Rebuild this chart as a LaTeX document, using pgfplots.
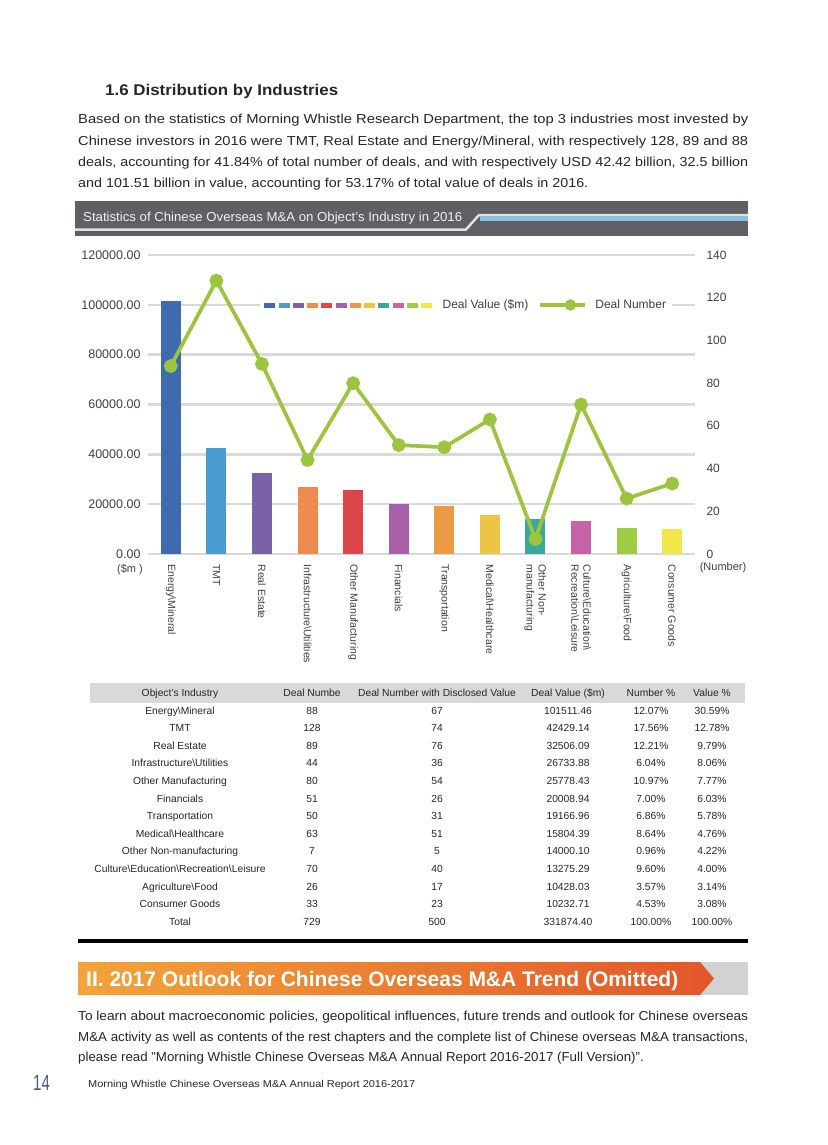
\documentclass[border=0pt]{standalone}
\usepackage{fontspec}
\setmainfont{Liberation Sans}
\usepackage{graphicx}
\usepackage{pgfplots}
\pgfplotsset{compat=1.18}

\definecolor{cEnergy}{HTML}{3D6BAE}
\definecolor{cTMT}{HTML}{4A9CD2}
\definecolor{cReal}{HTML}{7A62A6}
\definecolor{cInfra}{HTML}{EE8B4E}
\definecolor{cOthMfg}{HTML}{DC4549}
\definecolor{cFin}{HTML}{A960A8}
\definecolor{cTrans}{HTML}{E99A45}
\definecolor{cMed}{HTML}{EEC444}
\definecolor{cNonMfg}{HTML}{3AA89A}
\definecolor{cCult}{HTML}{C463A6}
\definecolor{cAgri}{HTML}{9FCB45}
\definecolor{cCons}{HTML}{F1E74C}
\definecolor{dealgreen}{HTML}{9DC43F}
\definecolor{gridgray}{HTML}{D9D9D9}
\definecolor{ticktext}{HTML}{404040}
\definecolor{bodytext}{HTML}{262626}
\definecolor{bannergray}{HTML}{5F6064}
\definecolor{bannerblue}{HTML}{8CC1E3}
\definecolor{orangeL}{HTML}{F2A43A}
\definecolor{orangeR}{HTML}{E2562A}
\definecolor{pagenum}{HTML}{4A5A78}

\newcommand\bodyfont{\fontsize{13}{15}\selectfont}
\newcommand\tabfont{\fontsize{10.3}{12}\selectfont}
\newlength\natw

\begin{document}%
\settowidth\natw{\bodyfont deals, accounting for 41.84\% of total number of deals, and with respectively USD 42.42 billion, 32.5 billion}%
\pgfmathsetmacro\sfa{670/\natw}%
\settowidth\natw{\bodyfont M\&A activity as well as contents of the rest chapters and the complete list of Chinese overseas M\&A transactions,}%
\pgfmathsetmacro\sfb{670/\natw}%
\begin{tikzpicture}
\path[use as bounding box, fill=white] (0pt,0pt) rectangle (827pt,-1145pt);

\begin{scope}[x=1pt, y=-1pt, every node/.style={inner sep=0pt}]
% heading and text above the chart
\node[anchor=base west, text=bodytext] at (105,96)
  {\resizebox{233pt}{\height}{\fontsize{15.5}{18}\selectfont\bfseries 1.6 Distribution by Industries}};
\node[anchor=base west, text=bodytext] at (78,124)
  {\resizebox{670pt}{\height}{\bodyfont Based on the statistics of Morning Whistle Research Department, the top 3 industries most invested by}};
\node[anchor=base west, text=bodytext] at (78,145)
  {\resizebox{670pt}{\height}{\bodyfont Chinese investors in 2016 were TMT, Real Estate and Energy/Mineral, with respectively 128, 89 and 88}};
\node[anchor=base west, text=bodytext] at (78,166)
  {\resizebox{670pt}{\height}{\bodyfont deals, accounting for 41.84\% of total number of deals, and with respectively USD 42.42 billion, 32.5 billion}};
\node[anchor=base west, text=bodytext] at (78,187)
  {\scalebox{\sfa}[1]{\bodyfont and 101.51 billion in value, accounting for 53.17\% of total value of deals in 2016.}};

% chart title banner
\fill[bannergray] (75,201) rectangle (748,236);
\draw[white!88!black, line width=2.5pt] (75,229.5) -- (466,229.5) -- (479,215) -- (748,215);
\fill[bannerblue] (480,215.8) rectangle (748,221);
\node[anchor=west, text=white!94!black] at (83,218)
  {\resizebox{379pt}{\height}{\fontsize{13}{15}\selectfont Statistics of Chinese Overseas M\&A on Object's Industry in 2016}};

% unit labels
\node[text=ticktext] at (130,570) {\fontsize{11}{12}\selectfont(\$m )};
\node[text=ticktext] at (723,568) {\fontsize{11}{12}\selectfont(Number)};
\end{scope}

% ---- bars: deal value
\begin{axis}[
  at={(148pt,-554pt)}, anchor=south west,
  scale only axis, width=547pt, height=299pt,
  xmin=-0.5, xmax=11.5, ymin=0, ymax=120000,
  xtick={0,...,11},
  xticklabels={Energy\textbackslash Mineral, TMT, Real Estate,
    Infrastructure\textbackslash Utilities, Other Manufacturing, Financials,
    Transportation, Medical\textbackslash Healthcare, {Other Non-\\manufacturing},
    {Culture\textbackslash Education\textbackslash\\Recreation\textbackslash Leisure},
    Agriculture\textbackslash Food, Consumer Goods},
  ytick={0,20000,40000,60000,80000,100000,120000},
  scaled y ticks=false,
  ymajorgrids, grid style={gridgray, line width=2.5pt},
  axis line style={draw=none}, major tick length=0pt,
  tick label style={text=ticktext},
  yticklabel style={font=\fontsize{12.5}{14}\selectfont, xshift=-4pt,
    /pgf/number format/.cd, fixed, fixed zerofill, precision=2, 1000 sep={}, assume math mode=true},
  xticklabel style={font=\fontsize{10.5}{12}\selectfont, rotate=-90, anchor=west, align=left},
  xticklabel shift=7pt,
  clip=false,
]
\addplot[ybar, bar width=20pt, bar shift=0pt, draw=none, fill=cEnergy] coordinates {(0,101511.46)};
\addplot[ybar, bar width=20pt, bar shift=0pt, draw=none, fill=cTMT] coordinates {(1,42429.14)};
\addplot[ybar, bar width=20pt, bar shift=0pt, draw=none, fill=cReal] coordinates {(2,32506.09)};
\addplot[ybar, bar width=20pt, bar shift=0pt, draw=none, fill=cInfra] coordinates {(3,26733.88)};
\addplot[ybar, bar width=20pt, bar shift=0pt, draw=none, fill=cOthMfg] coordinates {(4,25778.43)};
\addplot[ybar, bar width=20pt, bar shift=0pt, draw=none, fill=cFin] coordinates {(5,20008.94)};
\addplot[ybar, bar width=20pt, bar shift=0pt, draw=none, fill=cTrans] coordinates {(6,19166.96)};
\addplot[ybar, bar width=20pt, bar shift=0pt, draw=none, fill=cMed] coordinates {(7,15804.39)};
\addplot[ybar, bar width=20pt, bar shift=0pt, draw=none, fill=cNonMfg] coordinates {(8,14000.10)};
\addplot[ybar, bar width=20pt, bar shift=0pt, draw=none, fill=cCult] coordinates {(9,13275.29)};
\addplot[ybar, bar width=20pt, bar shift=0pt, draw=none, fill=cAgri] coordinates {(10,10428.03)};
\addplot[ybar, bar width=20pt, bar shift=0pt, draw=none, fill=cCons] coordinates {(11,10232.71)};
\end{axis}

% ---- line: deal number
\begin{axis}[
  at={(148pt,-554pt)}, anchor=south west,
  scale only axis, width=547pt, height=299pt,
  xmin=-0.5, xmax=11.5, ymin=0, ymax=140,
  hide x axis,
  axis y line*=right,
  axis line style={draw=none}, major tick length=0pt,
  ytick={0,20,40,60,80,100,120,140},
  yticklabel style={font=\fontsize{12}{14}\selectfont, text=ticktext, anchor=west, xshift=8pt,
    /pgf/number format/assume math mode=true},
  legend style={at={(0.2048,0.8328)}, anchor=west, draw=none, fill=white,
    font=\fontsize{12}{14}\selectfont, text=ticktext, inner xsep=4pt,
    /tikz/column 1/.style={column sep=9pt},
    /tikz/column 2/.style={column sep=8pt},
    /tikz/column 3/.style={column sep=6pt}},
  legend columns=-1,
  legend cell align=left,
  clip=false,
]
\addlegendimage{legend image code/.code={
  \foreach \c [count=\i from 0] in {cEnergy,cTMT,cReal,cInfra,cOthMfg,cFin,cTrans,cMed,cNonMfg,cCult,cAgri,cCons}
    {\fill[\c] (\i*14.27pt,-2pt) rectangle ++(10pt,4pt);}
}}
\addlegendentry{Deal Value (\$m)}
\addlegendimage{legend image code/.code={
  \draw[dealgreen, line width=4pt] (0pt,0pt) -- (45pt,0pt);
  \fill[dealgreen] (30pt,0pt) circle (5.5pt);
}}
\addlegendentry{Deal Number}
\addplot[dealgreen, line width=3.7pt, mark=*, mark size=5pt,
  mark options={fill=dealgreen, draw=none}, forget plot]
  coordinates {(0,88) (1,128) (2,89) (3,44) (4,80) (5,51) (6,50) (7,63) (8,7) (9,70) (10,26) (11,33)};
\end{axis}

\begin{scope}[x=1pt, y=-1pt, every node/.style={inner sep=0pt, text=bodytext}]
% table
\fill[gridgray] (90,683) rectangle (745,703);
\newcommand\trow[7]{%
  \node[anchor=base] at (180,#1) {\tabfont #2};
  \node[anchor=base] at (312,#1) {\tabfont #3};
  \node[anchor=base] at (437,#1) {\tabfont #4};
  \node[anchor=base] at (568,#1) {\tabfont #5};
  \node[anchor=base] at (651,#1) {\tabfont #6};
  \node[anchor=base] at (712,#1) {\tabfont #7};}
\trow{696.5}{Object's Industry}{Deal Numbe}{Deal Number with Disclosed Value}{Deal Value (\$m)}{Number \%}{Value \%}
\trow{714.0}{Energy\textbackslash Mineral}{88}{67}{101511.46}{12.07\%}{30.59\%}
\trow{731.6}{TMT}{128}{74}{42429.14}{17.56\%}{12.78\%}
\trow{749.2}{Real Estate}{89}{76}{32506.09}{12.21\%}{9.79\%}
\trow{766.8}{Infrastructure\textbackslash Utilities}{44}{36}{26733.88}{6.04\%}{8.06\%}
\trow{784.4}{Other Manufacturing}{80}{54}{25778.43}{10.97\%}{7.77\%}
\trow{802.0}{Financials}{51}{26}{20008.94}{7.00\%}{6.03\%}
\trow{819.6}{Transportation}{50}{31}{19166.96}{6.86\%}{5.78\%}
\trow{837.2}{Medical\textbackslash Healthcare}{63}{51}{15804.39}{8.64\%}{4.76\%}
\trow{854.8}{Other Non-manufacturing}{7}{5}{14000.10}{0.96\%}{4.22\%}
\trow{872.4}{Culture\textbackslash Education\textbackslash Recreation\textbackslash Leisure}{70}{40}{13275.29}{9.60\%}{4.00\%}
\trow{890.0}{Agriculture\textbackslash Food}{26}{17}{10428.03}{3.57\%}{3.14\%}
\trow{907.6}{Consumer Goods}{33}{23}{10232.71}{4.53\%}{3.08\%}
\trow{925.2}{Total}{729}{500}{331874.40}{100.00\%}{100.00\%}
\draw[line width=4pt, black] (78,941) -- (748,941);

% section banner
\fill[gray!35] (700,962) rectangle (748,995);
\shade[left color=orangeL, right color=orangeR] (78,962) -- (700,962) -- (714,978.5) -- (700,995) -- (78,995) -- cycle;
\node[anchor=base west, text=white] at (86,986.5)
  {\resizebox{592pt}{\height}{\fontsize{21}{24}\selectfont\bfseries II. 2017 Outlook for Chinese Overseas M\&A Trend (Omitted)}};

% closing paragraph
\node[anchor=base west] at (78,1020)
  {\resizebox{670pt}{\height}{\bodyfont To learn about macroeconomic policies, geopolitical influences, future trends and outlook for Chinese overseas}};
\node[anchor=base west] at (78,1041)
  {\resizebox{670pt}{\height}{\bodyfont M\&A activity as well as contents of the rest chapters and the complete list of Chinese overseas M\&A transactions,}};
\node[anchor=base west] at (78,1061)
  {\scalebox{\sfb}[1]{\bodyfont please read "Morning Whistle Chinese Overseas M\&A Annual Report 2016-2017 (Full Version)".}};

% footer
\node[anchor=base west, text=pagenum] at (33,1090) {\scalebox{0.75}[1.1]{\fontsize{20}{22}\selectfont 14}};
\node[anchor=base west] at (88,1087)
  {\resizebox{327pt}{\height}{\fontsize{10}{12}\selectfont Morning Whistle Chinese Overseas M\&A Annual Report 2016-2017}};
\end{scope}
\end{tikzpicture}%
\end{document}
